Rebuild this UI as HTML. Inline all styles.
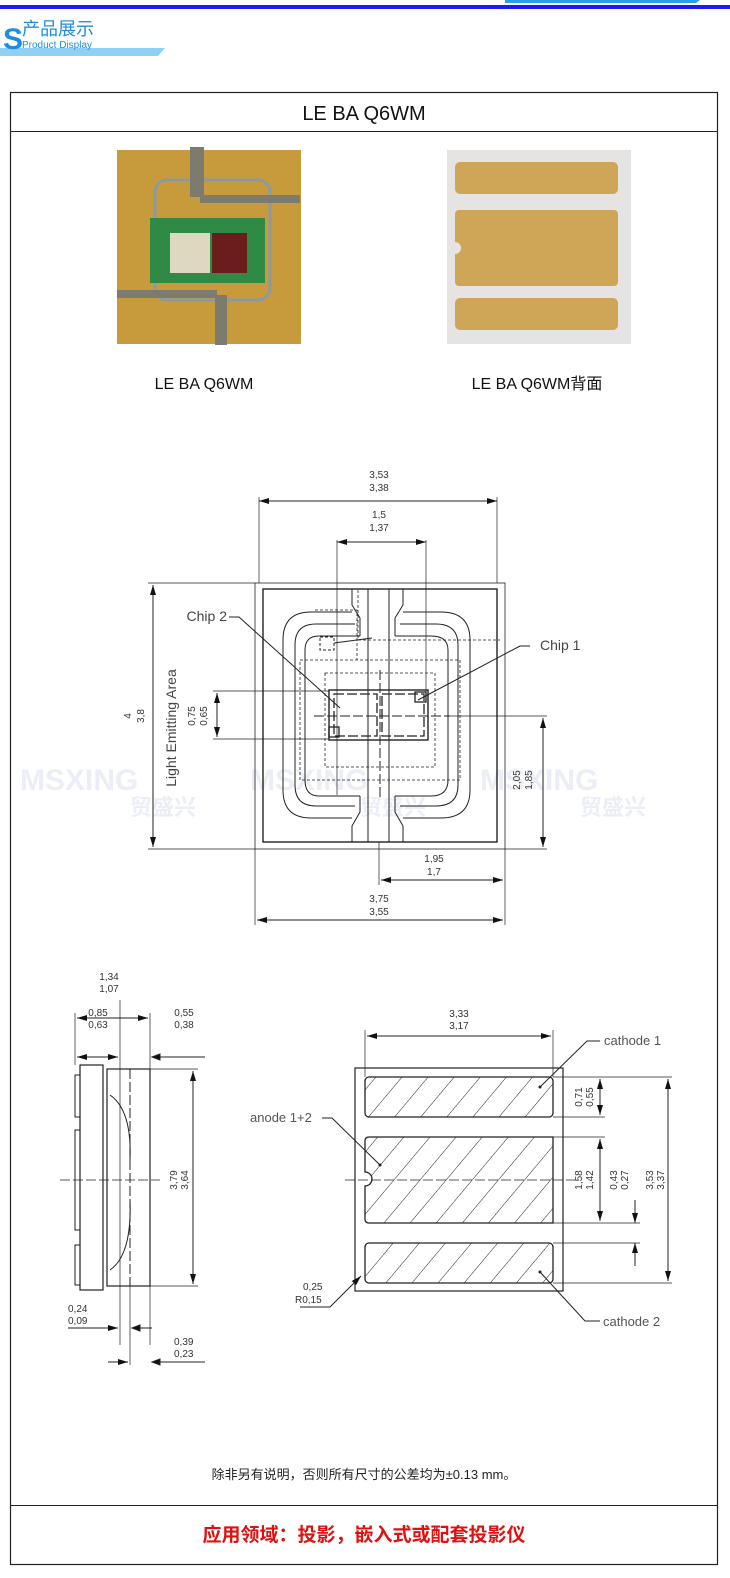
<!DOCTYPE html>
<html><head><meta charset="utf-8"><style>
html,body{margin:0;padding:0;background:#fff;width:730px;height:1578px;overflow:hidden}
svg{display:block}
text{font-family:"Liberation Sans","Noto Sans CJK SC",sans-serif}
.d{font-family:"DejaVu Sans","Liberation Sans",sans-serif;font-size:10px;fill:#333}
</style></head><body>
<svg width="730" height="1578" viewBox="0 0 730 1578" xmlns="http://www.w3.org/2000/svg">
<defs>
<marker id="a" viewBox="0 0 10 6" refX="10" refY="3" markerWidth="10" markerHeight="6" orient="auto-start-reverse"><path d="M0,0L10,3L0,6z" fill="#111"/></marker>
<pattern id="h" width="20" height="20" patternUnits="userSpaceOnUse" patternTransform="rotate(40)"><line x1="0" y1="0" x2="0" y2="20" stroke="#222" stroke-width="1"/></pattern>
</defs>
<!-- header -->
<rect x="0" y="5" width="730" height="4" fill="#1a1aff"/>
<polygon points="505,0 700,0 696,3 505,3" fill="#2aa0e8"/>
<polygon points="0,48 165,48 158,56 0,56" fill="#8fd0f5"/>
<text x="3" y="49" font-size="30" font-weight="bold" fill="#1e8fe0">S</text>
<text x="22" y="35" font-size="18" fill="#1e8fe0">产品展示</text>
<text x="22" y="48" font-size="10" fill="#1e8fe0" font-family="Liberation Mono">Product Display</text>
<!-- frame -->
<rect x="10.5" y="92.5" width="707" height="1472" fill="none" stroke="#222" stroke-width="1.2"/>
<line x1="10" y1="131.5" x2="718" y2="131.5" stroke="#222"/>
<line x1="10" y1="1505.5" x2="718" y2="1505.5" stroke="#222"/>
<text x="364" y="120" font-size="20" text-anchor="middle" fill="#111" font-family="DejaVu Sans">LE BA Q6WM</text>
<!-- photo 1 -->
<rect x="117" y="150" width="184" height="194" fill="#c79a3c"/>
<rect x="155" y="180" width="115" height="120" rx="12" fill="none" stroke="#8a9aa0" stroke-width="3"/>
<rect x="150" y="218" width="115" height="65" fill="#2f8a45"/>
<rect x="170" y="233" width="40" height="40" fill="#ddd8c0"/>
<rect x="212" y="233" width="35" height="40" fill="#6a1d1a"/>
<rect x="190" y="147" width="14" height="50" fill="#7d7a6e"/>
<rect x="200" y="195" width="100" height="8" fill="#7d7a6e"/>
<rect x="117" y="290" width="100" height="8" fill="#7d7a6e"/>
<rect x="215" y="295" width="12" height="50" fill="#7d7a6e"/>
<!-- photo 2 -->
<rect x="447" y="150" width="184" height="194" fill="#e6e4e2"/>
<rect x="455" y="162" width="163" height="32" rx="5" fill="#cfa658"/>
<rect x="455" y="210" width="163" height="76" rx="4" fill="#cfa658"/>
<circle cx="455" cy="248" r="6" fill="#e6e4e2"/>
<rect x="455" y="298" width="163" height="32" rx="5" fill="#cfa658"/>
<text x="204" y="389" font-size="16" text-anchor="middle" fill="#111" font-family="DejaVu Sans">LE BA Q6WM</text>
<text x="537" y="389" font-size="16" text-anchor="middle" fill="#111" font-family="DejaVu Sans,Noto Sans CJK SC">LE BA Q6WM背面</text>
<!-- watermark -->
<g fill="#c8cfe8" opacity="0.35" font-size="30" font-weight="bold">
<text x="20" y="790">MSXING</text><text x="250" y="790">MSXING</text><text x="480" y="790">MSXING</text>
<text x="130" y="815" font-size="22">贸盛兴</text><text x="360" y="815" font-size="22">贸盛兴</text><text x="580" y="815" font-size="22">贸盛兴</text>
</g>
<!-- top drawing -->
<g stroke="#222" fill="none" stroke-width="1">
<rect x="255" y="583" width="250" height="266" stroke-width="0.8"/>
<rect x="263" y="589" width="234" height="253" stroke-width="1.4"/>
<path d="M352,612 H311 Q283,612 283,640 V790 Q283,818 311,818 H352"/>
<path d="M403,612 H441 Q470,612 470,640 V790 Q470,818 441,818 H403"/>
<path d="M355,624 H316 Q295,624 295,645 V785 Q295,806 316,806 H355"/>
<path d="M400,624 H436 Q458,624 458,645 V785 Q458,806 436,806 H400"/>
<path d="M360,636 H319 Q305,636 305,650 V780 Q305,796 319,796 H360"/>
<path d="M395,636 H431 Q448,636 448,650 V780 Q448,796 431,796 H395"/>
<path d="M352,589 V605 L360,618 V636 M403,589 V605 L395,618 V636 M352,842 V826 L360,812 V796 M403,842 V826 L395,812 V796"/>
<line x1="368" y1="589" x2="368" y2="842"/><line x1="389" y1="589" x2="389" y2="842"/>
<g stroke-dasharray="3,2" stroke-width="0.8">
<rect x="325" y="673" width="110" height="94"/>
<rect x="300" y="660" width="160" height="120"/>
<path d="M358,590 V640 H500 M315,610 H357 V660"/>
</g>
<rect x="329" y="690" width="99" height="50" stroke-width="1.4"/>
<g stroke-dasharray="10,3" stroke-width="1.3"><rect x="334" y="694" width="43" height="42"/><rect x="382" y="694" width="42" height="42"/></g>
<rect x="329" y="727" width="10" height="10" stroke-width="1.3"/><rect x="415" y="692" width="11" height="10" stroke-width="1.3"/>
<rect x="320" y="637" width="14" height="13" stroke-dasharray="3,2"/>
<path d="M334,643 L372,638"/>
<line x1="314" y1="716" x2="450" y2="716" stroke-dasharray="10,3"/>
<line x1="380" y1="670" x2="380" y2="800" stroke-dasharray="10,3"/>
<line x1="337" y1="540" x2="337" y2="795" stroke-width="0.7"/>
<line x1="426" y1="540" x2="426" y2="692" stroke-width="0.7"/>
<line x1="259" y1="497" x2="259" y2="583" stroke-width="0.7"/><line x1="497" y1="497" x2="497" y2="583" stroke-width="0.7"/>
<line x1="259" y1="501" x2="497" y2="501" marker-start="url(#a)" marker-end="url(#a)"/>
<line x1="337" y1="542" x2="426" y2="542" marker-start="url(#a)" marker-end="url(#a)"/>
<line x1="148" y1="583" x2="255" y2="583" stroke-width="0.7"/><line x1="148" y1="849" x2="255" y2="849" stroke-width="0.7"/>
<line x1="153" y1="585" x2="153" y2="847" marker-start="url(#a)" marker-end="url(#a)"/>
<line x1="213" y1="691" x2="329" y2="691" stroke-width="0.7"/><line x1="213" y1="739" x2="329" y2="739" stroke-width="0.7"/>
<line x1="217" y1="693" x2="217" y2="737" marker-start="url(#a)" marker-end="url(#a)"/>
<line x1="450" y1="716" x2="547" y2="716" stroke-width="0.7"/><line x1="505" y1="849" x2="547" y2="849" stroke-width="0.7"/>
<line x1="543" y1="718" x2="543" y2="847" marker-start="url(#a)" marker-end="url(#a)"/>
<line x1="379" y1="842" x2="379" y2="885" stroke-width="0.7"/>
<line x1="255" y1="849" x2="255" y2="925" stroke-width="0.7"/><line x1="505" y1="849" x2="505" y2="925" stroke-width="0.7"/>
<line x1="381" y1="880" x2="503" y2="880" marker-start="url(#a)" marker-end="url(#a)"/>
<line x1="257" y1="920" x2="503" y2="920" marker-start="url(#a)" marker-end="url(#a)"/>
<path d="M229,617 H239 L340,708"/><path d="M530,646 H520 L418,700"/>
</g>
<g class="d" text-anchor="middle">
<text x="379" y="478">3,53</text><text x="379" y="491">3,38</text>
<text x="379" y="518">1,5</text><text x="379" y="531">1,37</text>
<text x="434" y="862">1,95</text><text x="434" y="875">1,7</text>
<text x="379" y="902">3,75</text><text x="379" y="915">3,55</text>
</g>
<text x="227" y="621" font-size="14" text-anchor="end" fill="#444" font-family="DejaVu Sans">Chip 2</text>
<text x="540" y="650" font-size="14" fill="#444" font-family="DejaVu Sans">Chip 1</text>
<text transform="translate(176,728) rotate(-90)" font-size="14" text-anchor="middle" fill="#444" font-family="DejaVu Sans">Light Emitting Area</text>
<g class="d" text-anchor="middle">
<text transform="translate(131,716) rotate(-90)">4</text><text transform="translate(144,716) rotate(-90)">3,8</text>
<text transform="translate(195,716) rotate(-90)">0,75</text><text transform="translate(207,716) rotate(-90)">0,65</text>
<text transform="translate(520,780) rotate(-90)">2,05</text><text transform="translate(532,780) rotate(-90)">1,85</text>
</g>
<!-- side view -->
<g stroke="#222" fill="none" stroke-width="1">
<rect x="80" y="1065" width="23" height="225" stroke-width="1.2"/>
<rect x="107" y="1069" width="43" height="217" stroke-width="1.2"/>
<rect x="75" y="1075" width="5" height="42"/><rect x="75" y="1130" width="5" height="100"/><rect x="75" y="1245" width="5" height="40"/>
<line x1="120" y1="1000" x2="120" y2="1345" stroke-width="0.7"/>
<line x1="130" y1="1069" x2="130" y2="1286" stroke-dasharray="10,3"/>
<path d="M110,1095 Q132,1110 130,1160 M110,1270 Q132,1255 130,1200"/>
<line x1="60" y1="1180" x2="160" y2="1180" stroke-dasharray="10,3" stroke-width="0.7"/>
<line x1="75" y1="1013" x2="75" y2="1065" stroke-width="0.7"/><line x1="150" y1="1013" x2="150" y2="1345" stroke-width="0.7"/>
<line x1="77" y1="1018" x2="148" y2="1018" marker-start="url(#a)" marker-end="url(#a)"/>
<line x1="77" y1="1057" x2="118" y2="1057" marker-start="url(#a)" marker-end="url(#a)"/>
<line x1="152" y1="1057" x2="205" y2="1057"/><path d="M152,1057 l8,-3 v6z" fill="#111"/>
<line x1="150" y1="1069" x2="198" y2="1069" stroke-width="0.7"/><line x1="150" y1="1286" x2="198" y2="1286" stroke-width="0.7"/>
<line x1="193" y1="1071" x2="193" y2="1284" marker-start="url(#a)" marker-end="url(#a)"/>
<line x1="68" y1="1328" x2="118" y2="1328" marker-end="url(#a)"/><line x1="132" y1="1328" x2="152" y2="1328"/><path d="M132,1328 l8,-3 v6z" fill="#111"/>
<line x1="108" y1="1362" x2="128" y2="1362" marker-end="url(#a)"/><line x1="152" y1="1362" x2="205" y2="1362"/><path d="M152,1362 l8,-3 v6z" fill="#111"/>
<line x1="130" y1="1286" x2="130" y2="1365" stroke-width="0.7"/>
</g>
<g class="d" font-size="9">
<text x="109" y="980" text-anchor="middle">1,34</text><text x="109" y="992" text-anchor="middle">1,07</text>
<text x="98" y="1016" text-anchor="middle">0,85</text><text x="98" y="1028" text-anchor="middle">0,63</text>
<text x="184" y="1016" text-anchor="middle">0,55</text><text x="184" y="1028" text-anchor="middle">0,38</text>
<text x="68" y="1312">0,24</text><text x="68" y="1324">0,09</text>
<text x="174" y="1345">0,39</text><text x="174" y="1357">0,23</text>
<text transform="translate(177,1180) rotate(-90)" text-anchor="middle">3,79</text><text transform="translate(188,1180) rotate(-90)" text-anchor="middle">3,64</text>
</g>
<!-- bottom view -->
<g stroke="#222" fill="none" stroke-width="1">
<rect x="355" y="1068" width="208" height="223" stroke-width="1.2"/>
<rect x="365" y="1077" width="188" height="40" rx="4" fill="url(#h)" stroke-width="1.3"/>
<path d="M369,1137 H553 V1223 H369 Q365,1223 365,1219 V1186 A7,7 0 0 0 365,1172 V1141 Q365,1137 369,1137 Z" fill="url(#h)" stroke-width="1.3"/>
<rect x="365" y="1243" width="188" height="40" rx="4" fill="url(#h)" stroke-width="1.3"/>
<line x1="345" y1="1180" x2="575" y2="1180" stroke-dasharray="10,3" stroke-width="0.7"/>
<line x1="365" y1="1030" x2="365" y2="1077" stroke-width="0.7"/><line x1="553" y1="1030" x2="553" y2="1077" stroke-width="0.7"/>
<line x1="367" y1="1036" x2="551" y2="1036" marker-start="url(#a)" marker-end="url(#a)"/>
<line x1="553" y1="1077" x2="672" y2="1077" stroke-width="0.7"/><line x1="553" y1="1117" x2="605" y2="1117" stroke-width="0.7"/>
<line x1="553" y1="1137" x2="605" y2="1137" stroke-width="0.7"/><line x1="553" y1="1223" x2="640" y2="1223" stroke-width="0.7"/>
<line x1="553" y1="1243" x2="640" y2="1243" stroke-width="0.7"/><line x1="553" y1="1283" x2="672" y2="1283" stroke-width="0.7"/>
<line x1="600" y1="1079" x2="600" y2="1115" marker-start="url(#a)" marker-end="url(#a)"/>
<line x1="600" y1="1139" x2="600" y2="1221" marker-start="url(#a)" marker-end="url(#a)"/>
<line x1="635" y1="1200" x2="635" y2="1223" marker-end="url(#a)"/><line x1="635" y1="1266" x2="635" y2="1243" marker-end="url(#a)"/>
<line x1="668" y1="1079" x2="668" y2="1281" marker-start="url(#a)" marker-end="url(#a)"/>
<path d="M600,1041 H587 L540,1087"/><path d="M322,1118 H332 L380,1165"/><path d="M600,1321 H585 L540,1272"/>
<path d="M300,1307 H330 L361,1276" marker-end="url(#a)"/>
</g>
<g fill="#222"><circle cx="540" cy="1087" r="1.5"/><circle cx="380" cy="1165" r="1.5"/><circle cx="540" cy="1272" r="1.5"/></g>
<g class="d" font-size="9">
<text x="459" y="1017" text-anchor="middle">3,33</text><text x="459" y="1029" text-anchor="middle">3,17</text>
<text transform="translate(582,1097) rotate(-90)" text-anchor="middle">0,71</text><text transform="translate(593,1097) rotate(-90)" text-anchor="middle">0,55</text>
<text transform="translate(582,1180) rotate(-90)" text-anchor="middle">1,58</text><text transform="translate(593,1180) rotate(-90)" text-anchor="middle">1,42</text>
<text transform="translate(617,1180) rotate(-90)" text-anchor="middle">0,43</text><text transform="translate(628,1180) rotate(-90)" text-anchor="middle">0,27</text>
<text transform="translate(653,1180) rotate(-90)" text-anchor="middle">3,53</text><text transform="translate(664,1180) rotate(-90)" text-anchor="middle">3,37</text>
<text x="303" y="1290">0,25</text><text x="295" y="1303">R0,15</text>
</g>
<g font-size="13" fill="#555" font-family="DejaVu Sans">
<text x="604" y="1045">cathode 1</text><text x="250" y="1122">anode 1+2</text><text x="603" y="1326">cathode 2</text>
</g>
<text x="364" y="1479" font-size="13" text-anchor="middle" fill="#222">除非另有说明，否则所有尺寸的公差均为±0.13 mm。</text>
<text x="364" y="1541" font-size="19" font-weight="bold" text-anchor="middle" fill="#e01010">应用领域：投影，嵌入式或配套投影仪</text>
</svg>
</body></html>
